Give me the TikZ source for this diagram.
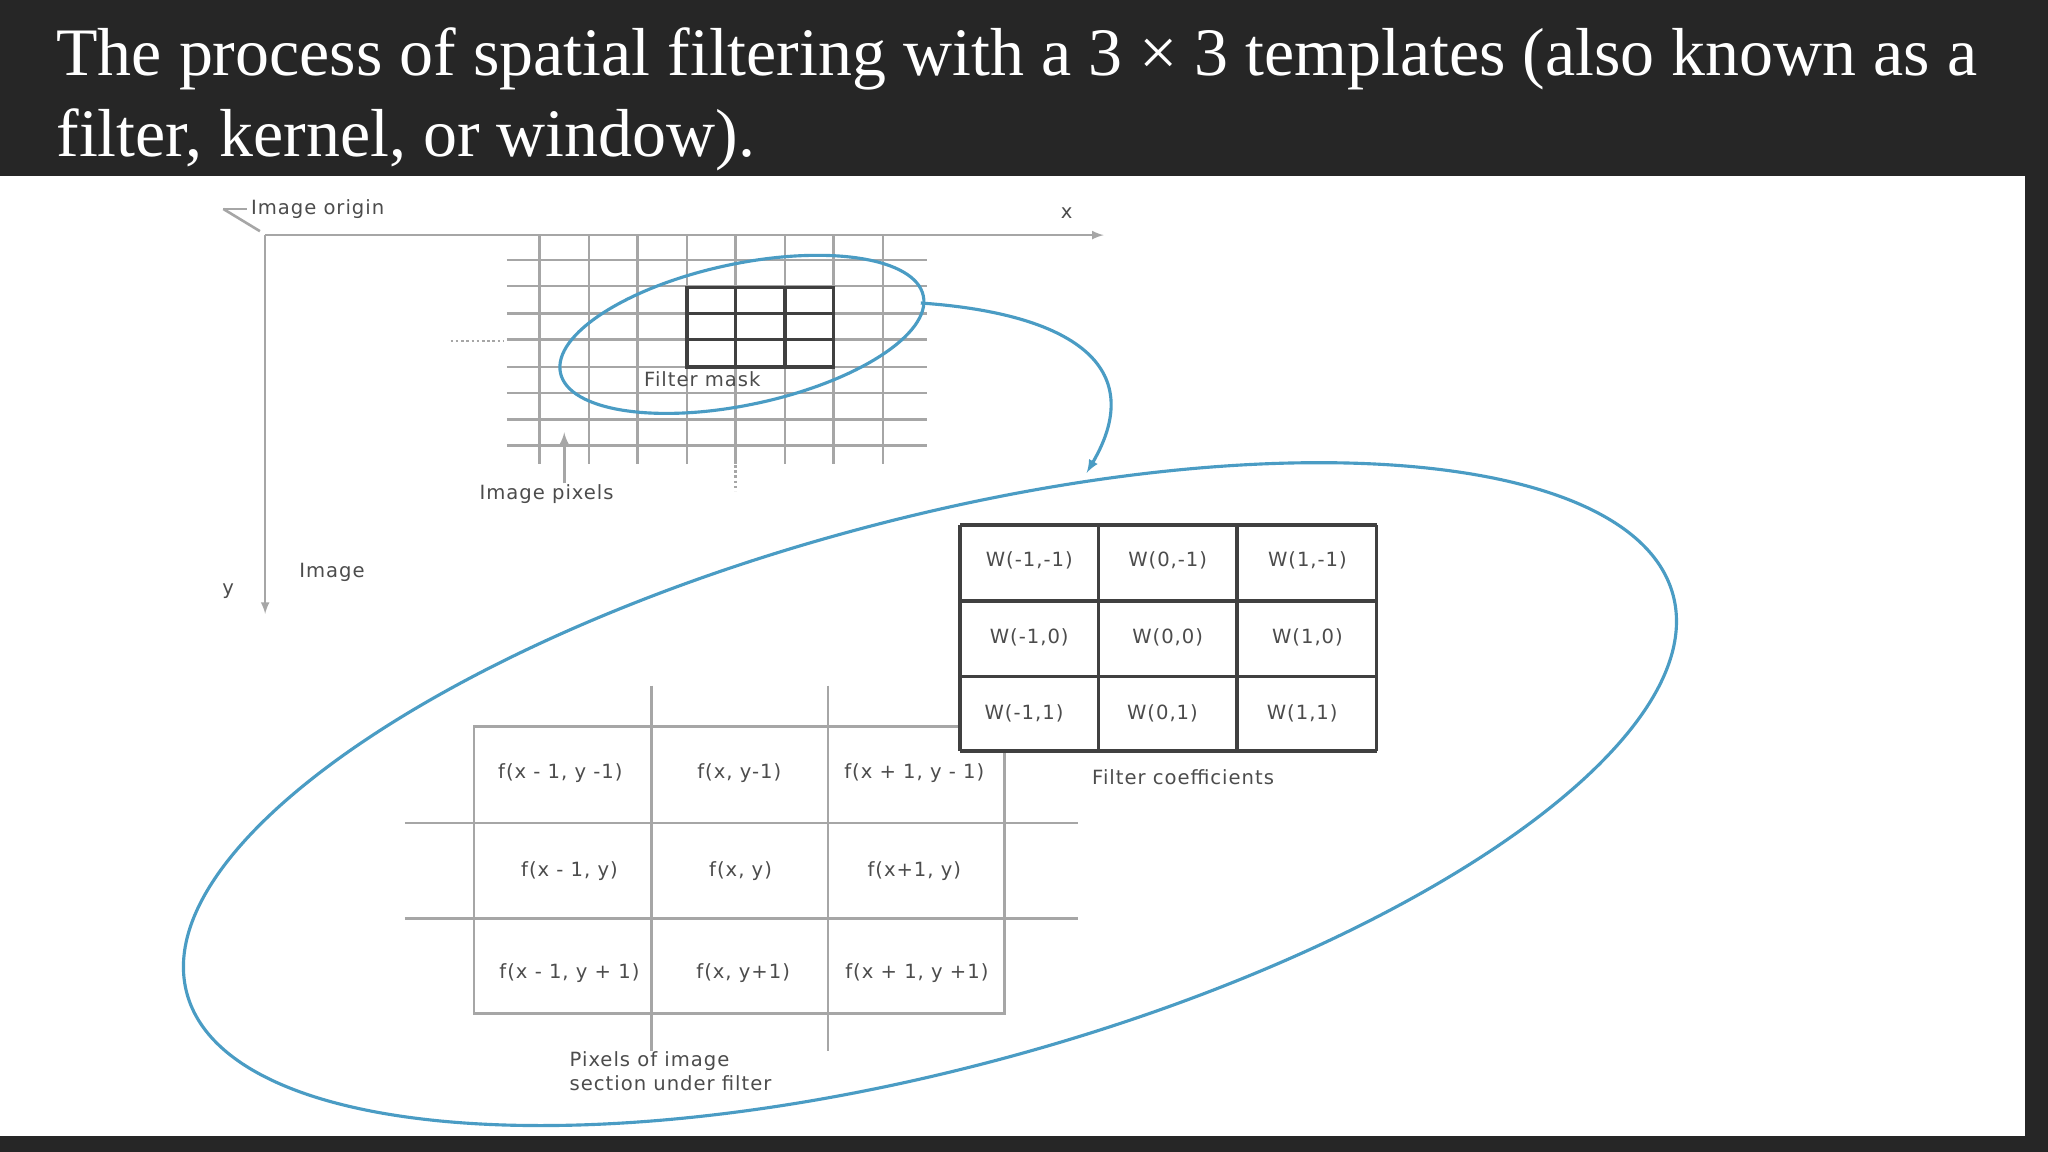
\documentclass[tikz,border=0pt]{standalone}
\usepackage{fontspec}
\setmainfont{Liberation Serif}
\newfontfamily\lab[LetterSpace=5]{DejaVu Sans}
\begin{document}
\begin{tikzpicture}[x=1pt,y=-1pt,
  gl/.style={draw=gray!70,line width=2pt},
  bl/.style={draw=black!75,line width=2.6pt},
  lbl/.style={font=\lab\fontsize{15}{18}\selectfont,text=black!70,inner sep=0pt},
  blue/.style={draw={rgb,255:red,74;green,156;blue,196},line width=2.4pt}]
\fill[black!85] (0,0) rectangle (1568,882);
\useasboundingbox (0,0) rectangle (1568,882);
\fill[white] (0,135) rectangle (1550,870);
\node[anchor=base west,inner sep=0pt,text=white,font=\fontsize{52}{62}\selectfont] (t1) at (43,58) {The process of spatial filtering with a 3 × 3 templates (also known as a};
\node[anchor=base west,inner sep=0pt,text=white,font=\fontsize{52}{62}\selectfont] (t2) at (43,120) {filter, kernel, or window).};
% axes
\coordinate (o) at (203,180);
\coordinate (xe) at (845,180);
\coordinate (ye) at (203,470);
\draw[gl,-latex] (o) -- (xe);
\draw[gl,-latex] (o) -- (ye);
\node[lbl,anchor=west] (xl) at (812,163) {x};
\node[lbl,anchor=west] (yl) at (170,453) {y};
\node[lbl,anchor=west] (io) at (192,160) {Image origin};
\coordinate (ia) at (171,160);
\coordinate (ib) at (199,177);
\draw[gl] (ia) -- ++(18,0);
\draw[gl] (ia) -- (ib);
\node[lbl,anchor=west] (img) at (229,438) {Image};
% grid
\foreach \x in {413,451,488,526,563,601,638,676} \draw[gl] (\x,180) -- (\x,355);
\foreach \y in {199,219,240,260,281,301,321,341} \draw[gl] (388,\y) -- (710,\y);
\draw[gl,dotted] (345,261) -- (386,261);
\draw[gl,dotted] (563,356) -- (563,376);
\draw[bl] (526,220) rectangle (638,281);
\draw[bl] (563,220) -- (563,281) (601,220) -- (601,281) (526,240) -- (638,240) (526,260) -- (638,260);
\node[lbl,anchor=west] (fm) at (493,290) {Filter mask};
\node[lbl,anchor=west] (ip) at (367,378) {Image pixels};
\coordinate (ipa) at (432,370);
\coordinate (ipb) at (432,331);
\draw[gl,-latex] (ipa) -- (ipb);
% small ellipse
\draw[blue] (568,256) ellipse[x radius=142,y radius=54,rotate=12];
\coordinate (ca) at (705,232);
\coordinate (cb) at (832,362);
\draw[blue,-latex] (ca) .. controls (820,240) and (880,280) .. (cb);
% big ellipse
\draw[blue] (712,608) ellipse[x radius=589,y radius=210,rotate=15];
% f table
\draw[gl] (363,556) rectangle (769,776);
\draw[gl] (499,525) -- (499,805) (634,525) -- (634,805);
\draw[gl] (310,630) -- (825,630) (310,703) -- (825,703);
\foreach \t/\x/\y in {{f(x - 1, y -1)}/429/592, {f(x, y-1)}/566/592, {f(x + 1, y - 1)}/700/592,
  {f(x - 1, y)}/436/667, {f(x, y)}/567/667, {f(x+1, y)}/700/667,
  {f(x - 1, y + 1)}/436/745, {f(x, y+1)}/569/745, {f(x + 1, y +1)}/702/745}
  \node[lbl] at (\x,\y) {\t};
\node[lbl,anchor=north west,align=left] (pi) at (436,805) {Pixels of image\\section under filter};
% kernel
\fill[white] (735,402) rectangle (1054,575);
\foreach \x in {735,841,947,1054} \draw[bl] (\x,402) -- (\x,575);
\foreach \y in {402,460,518,575} \draw[bl] (735,\y) -- (1054,\y);
\foreach \t/\x/\y in {{W(-1,-1)}/788/429, {W(0,-1)}/894/429, {W(1,-1)}/1001/429,
  {W(-1,0)}/788/488, {W(0,0)}/894/488, {W(1,0)}/1001/488,
  {W(-1,1)}/784/546, {W(0,1)}/890/546, {W(1,1)}/997/546}
  \node[lbl] at (\x,\y) {\t};
\node[lbl,anchor=west] (fc) at (836,595) {Filter coefficients};
\end{tikzpicture}
\end{document}
